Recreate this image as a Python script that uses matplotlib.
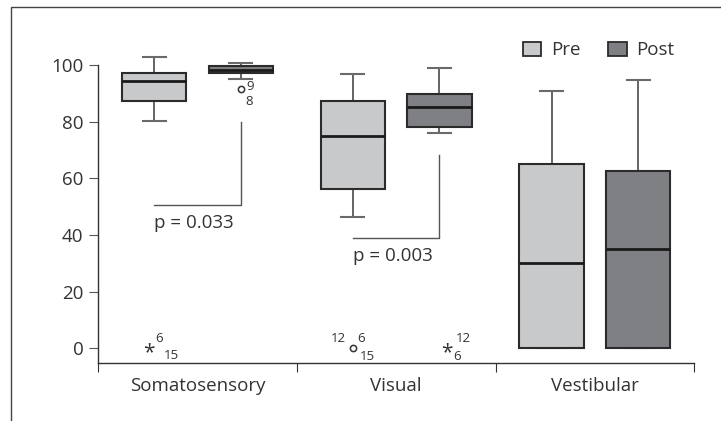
import matplotlib
matplotlib.use('Agg')
import matplotlib.pyplot as plt
from matplotlib.patches import Patch, Rectangle

plt.rcParams['font.family'] = ['Open Sans', 'DejaVu Sans']

categories = ['Somatosensory', 'Visual', 'Vestibular']
groups = ['Pre', 'Post']

# box stats per category: [Pre, Post]
whislo = [[80.3, 94.9], [46.2, 76.1], [0.0, 0.0]]
q1 = [[87.2, 97.0], [56.2, 78.0], [0.0, 0.0]]
med = [[94.2, 98.1], [74.9, 85.2], [30.2, 35.2]]
q3 = [[97.3, 99.8], [87.3, 89.7], [64.9, 62.6]]
whishi = [[102.8, 100.8], [96.8, 99.0], [90.9, 94.7]]

# outliers: (category, group, value, marker, case labels)
outliers = [
    (0, 0, 0.0, '*', ['6', '15']),
    (0, 1, 91.4, 'o', ['9', '8']),
    (1, 0, 0.0, 'o', ['12', '6', '15']),
    (1, 1, 0.0, '*', ['12', '6']),
]

# p-values: category, bracket top (at Post), bracket level
p_labels = ['p = 0.033', 'p = 0.003']
p_cat = [0, 1]
p_top = [79.8, 68.2]
p_level = [50.6, 39.0]

colors = ['#c8c9cb', '#7f8084']
edge = '#2b2b2b'
offset = 0.218
width = 0.324
fs = 13.5

fig = plt.figure(figsize=(7.21, 4.21), dpi=100)
ax = fig.add_axes([98 / 721, 57.7 / 421, 596.3 / 721, 332.3 / 421])

for gi, g in enumerate(groups):
    stats = []
    pos = []
    for ci in range(len(categories)):
        stats.append(dict(med=med[ci][gi], q1=q1[ci][gi], q3=q3[ci][gi],
                          whislo=whislo[ci][gi], whishi=whishi[ci][gi], fliers=[]))
        pos.append(ci + 0.5 + (offset if gi else -offset))
    ax.bxp(stats, positions=pos, widths=width, capwidths=0.116, patch_artist=True,
           showfliers=False,
           boxprops=dict(facecolor=colors[gi], edgecolor=edge, linewidth=1.5, zorder=3),
           medianprops=dict(color='#1a1a1a', linewidth=2, zorder=4),
           whiskerprops=dict(color='#3a3a3a', linewidth=1.1, zorder=2),
           capprops=dict(color='#6a6a6a', linewidth=1.5, zorder=2),
           manage_ticks=False)

# outliers and case numbers
for ci, gi, val, mk, labs in outliers:
    x = ci + 0.5 + (offset if gi else -offset)
    if mk == '*':
        xo = -4 if gi == 0 else 5
        ax.annotate('*', (x, val), xytext=(xo, -3), textcoords='offset points',
                    ha='center', va='center', fontsize=15, color='#333333')
        if gi == 1:
            offs = [(xo + 7, 7), (xo + 5, -6)]
        else:
            offs = [(xo + 5, 7), (xo + 11, -5)]
    else:
        ax.plot(x, val, marker='o', ms=4.5, mfc='white', mec='#333333', mew=1.1,
                ls='none')
        if len(labs) == 2:
            offs = [(4, 2), (3, -8.5)]
        else:
            offs = [(-5, 7), (3, 7), (5, -6)]
    for lab, (dx, dy) in zip(labs, offs):
        ha = 'left' if dx >= 0 else 'right'
        ax.annotate(lab, (x, val), xytext=(dx, dy), textcoords='offset points',
                    ha=ha, va='center', fontsize=9.5, color='#333333')

# p-value brackets
for lab, ci, top, lev in zip(p_labels, p_cat, p_top, p_level):
    xpre = ci + 0.5 - offset
    xpost = ci + 0.5 + offset
    ax.plot([xpost, xpost, xpre], [top, lev, lev], color='#555555', lw=1.0)
    ax.text(xpre, lev - 3.2, lab, ha='left', va='top', fontsize=fs, color='#333333')

ax.set_xlim(0, 3)
ax.set_ylim(-5.3, 112)
for s in ['top', 'right']:
    ax.spines[s].set_visible(False)
ax.spines['left'].set_bounds(-5.3, 100)
for s in ['left', 'bottom']:
    ax.spines[s].set_color('#333333')
    ax.spines[s].set_linewidth(1.0)

ax.set_yticks([0, 20, 40, 60, 80, 100])
ax.set_xticks([0, 1, 2, 3])
ax.set_xticklabels([])
ax.set_xticks([0.5, 1.5, 2.5], minor=True)
ax.set_xticklabels(categories, minor=True)
ax.tick_params(axis='x', which='major', length=6.5, color='#333333')
ax.tick_params(axis='x', which='minor', length=0, pad=10, labelsize=fs, labelcolor='#333333')
ax.tick_params(axis='y', length=6.5, color='#555555', labelsize=fs, labelcolor='#333333', pad=4)

handles = [Patch(facecolor=colors[i], edgecolor=edge, linewidth=1.3, label=groups[i])
           for i in range(2)]
fig.legend(handles=handles, loc='upper right', bbox_to_anchor=(684 / 721, 1 - 32 / 421),
           ncol=2, frameon=False, handlelength=1.0, handleheight=0.8,
           handletextpad=0.5, columnspacing=1.5, borderpad=0, fontsize=fs,
           labelcolor='#333333')

# outer frame
fig.add_artist(Rectangle((10.7 / 721, -0.1), 1.2, 1.1 - 7.3 / 421,
                         transform=fig.transFigure, fill=False,
                         edgecolor='#444444', lw=1.0))

fig.savefig('out.png', dpi=100)
